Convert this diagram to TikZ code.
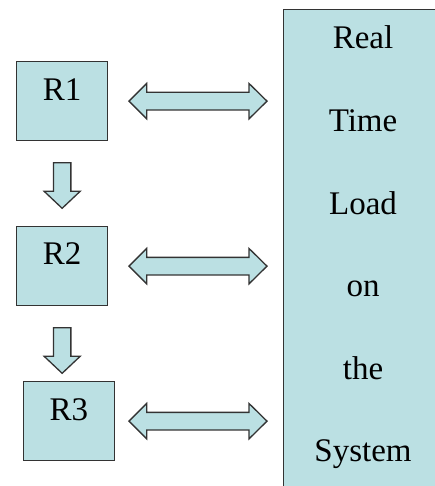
\documentclass[tikz,border=0pt]{standalone}
\usepackage{fontspec}
\setmainfont{Liberation Serif}
\usetikzlibrary{calc}
\definecolor{boxfill}{HTML}{BBE0E3}
\definecolor{boxline}{HTML}{333333}
\newcommand\myDownArrow[1]{%
  \draw[blockarrow] ($(#1)+(-8.7,21.5)$) -- ++(17.4,0) -- ++(0,28.5) -- ++(9.3,0)
    -- ++(-18,17) -- ++(-18,-17) -- ++(9.3,0) -- cycle;}
\newcommand\myDoubleArrow[1]{%
  \draw[blockarrow] (#1) -- ++(17.7,-17.7) -- ++(0,8.9) -- ++(102.3,0) -- ++(0,-8.9)
    -- ++(18,17.7) -- ++(-18,17.7) -- ++(0,-8.9) -- ++(-102.3,0) -- ++(0,8.9) -- cycle;}
\begin{document}
\begin{tikzpicture}[x=1pt,y=-1pt,
  box/.style={draw=boxline, fill=boxfill, line width=1.3pt, minimum width=91pt,
    minimum height=79pt, inner sep=0pt, anchor=north west},
  lbl/.style={font=\fontsize{33}{33}\selectfont, inner sep=0pt, text=black},
  blockarrow/.style={draw=boxline, fill=boxfill, line width=1.3pt, line join=miter}]
\useasboundingbox (0,0) rectangle (435,486);
\begin{scope}
  \clip (0,0) rectangle (435,486);
  \node[draw=boxline, fill=boxfill, line width=1.3pt, anchor=north west,
    minimum width=170pt, minimum height=500pt, inner sep=0pt] (sys) at (283,9) {};
\end{scope}
\foreach \t [count=\i from 0] in {Real,Time,Load,on,the,System}
  \node[lbl, anchor=base] (s\i) at (363, 49+82.5*\i) {\t};
\node[box] (r1) at (16,61) {};
\node[box] (r2) at (16,226) {};
\node[box] (r3) at (22.7,381) {};
\node[lbl] (t1) at ($(r1.north)+(0,29)$) {R1};
\node[lbl] (t2) at ($(r2.north)+(0,28)$) {R2};
\node[lbl] (t3) at ($(r3.north)+(0,29)$) {R3};
\myDownArrow{r1.south}
\myDownArrow{r2.south}
\coordinate (lx) at (129,0);
\myDoubleArrow{r1.east -| lx}
\myDoubleArrow{r2.east -| lx}
\myDoubleArrow{r3.east -| lx}
\end{tikzpicture}
\end{document}
